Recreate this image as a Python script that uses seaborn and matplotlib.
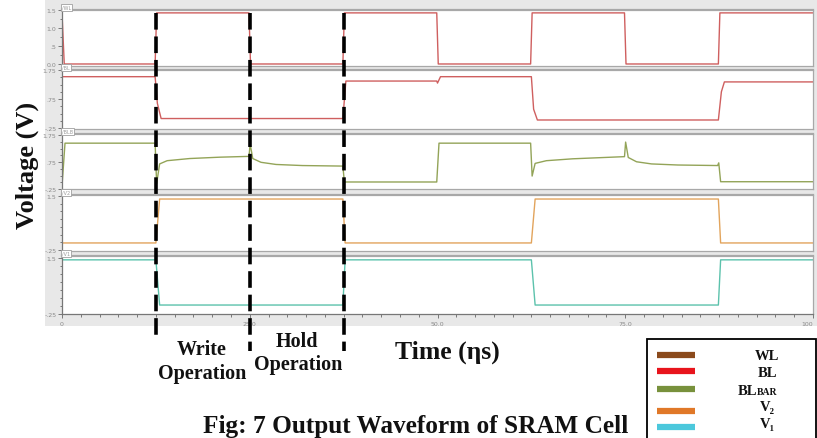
import matplotlib
matplotlib.use('Agg')
import matplotlib.pyplot as plt
import seaborn as sns
import pandas as pd
from matplotlib.patches import Rectangle
from matplotlib.ticker import MultipleLocator

# ---- data (times in ns, voltages in V) ----
wl_t = [0, 0.3, 12.4, 12.6, 24.9, 25.1, 37.4, 37.6, 49.9, 50.1, 62.4, 62.6, 74.9, 75.1, 87.4, 87.6, 100]
wl_v = [1.42, 0, 0, 1.42, 1.42, 0, 0, 1.42, 1.42, 0, 0, 1.42, 1.42, 0, 0, 1.42, 1.42]

bl_t = [0, 12.4, 12.7, 13.2, 37.4, 37.8, 49.9, 50.0, 50.4, 62.5, 62.8, 63.3, 87.4, 87.8, 88.2, 100]
bl_v = [1.52, 1.52, 0.6, 0.08, 0.08, 1.37, 1.37, 1.3, 1.52, 1.52, 0.4, 0.03, 0.03, 1.0, 1.34, 1.34]

blb_t = [0, 0.4, 12.4, 12.6, 13.0, 14.0, 17.0, 21.0, 24.9, 25.05, 25.4, 26.5, 28.5, 32.0, 37.4, 37.6,
         49.9, 50.2, 62.4, 62.6, 63.0, 64.5, 68.0, 74.9, 75.05, 75.4, 76.5, 78.5, 82.0, 87.3, 87.45, 87.7, 100]
blb_v = [-0.15, 1.45, 1.45, -0.05, 0.68, 0.80, 0.88, 0.93, 0.96, 1.42, 0.88, 0.74, 0.66, 0.62, 0.60, 0.01,
         0.01, 1.45, 1.45, 0.23, 0.70, 0.80, 0.87, 0.95, 1.49, 0.92, 0.76, 0.68, 0.64, 0.62, 0.72, 0.02, 0.02]

v2_t = [0, 12.5, 13.0, 37.4, 37.7, 62.5, 63.0, 87.4, 87.7, 100]
v2_v = [-0.02, -0.02, 1.40, 1.40, -0.02, -0.02, 1.40, 1.40, -0.02, -0.02]

v1_t = [0, 12.5, 13.0, 37.4, 37.7, 62.5, 63.0, 87.4, 87.7, 100]
v1_v = [1.44, 1.44, 0.03, 0.03, 1.44, 1.44, 0.03, 0.03, 1.44, 1.44]

signal_names = ['/WL', '/BL', '/BLB', '/V2', '/V1']
x_ticks = [0, 25, 50, 75, 100]
x_tick_labels = ['0', '25.0', '50.0', '75.0', '100']
op_times = [12.5, 25, 37.5]          # write / hold boundaries

legend_labels = ['WL', 'BL', 'BL', 'V\u2082', 'V\u2081']
legend_colors = ['#8b4a1c', '#e8141c', '#78913c', '#e07828', '#4cc8dc']

# ---- figure ----
W, H = 817, 439
sns.set_theme(style='white')
plt.rcParams['font.family'] = ['Liberation Serif', 'DejaVu Serif']

def box(x0, y0, x1, y1):
    return [x0 / W, 1 - y1 / H, (x1 - x0) / W, (y1 - y0) / H]

fig = plt.figure(figsize=(W / 100, H / 100), dpi=100)
fig.patch.set_facecolor('white')
fig.add_artist(Rectangle((45 / W, 1 - 327 / H), (W - 45) / W, 327 / H,
                         transform=fig.transFigure, fc='#e8e8e8', ec='none', zorder=-10))

panels = [
    # times, values, colour, pixel top, pixel bottom, ylim, yticks, labels, minor step
    (wl_t, wl_v, '#cf5f5f', 11, 67, (-0.056, 1.5), [0, 0.5, 1.0, 1.5], ['0.0', '.5', '1.0', '1.5'], 0.25),
    (bl_t, bl_v, '#cf5f5f', 71, 130, (-0.28, 1.75), [-0.25, 0.75, 1.75], ['-.25', '.75', '1.75'], 0.25),
    (blb_t, blb_v, '#93a458', 135, 190, (-0.25, 1.79), [-0.25, 0.75, 1.75], ['-.25', '.75', '1.75'], 0.25),
    (v2_t, v2_v, '#e2a45c', 196, 252, (-0.28, 1.53), [-0.25, 1.5], ['-.25', '1.5'], 0.25),
    (v1_t, v1_v, '#5cc2ac', 257, 315, (-0.25, 1.56), [-0.25, 1.5], ['-.25', '1.5'], 0.25),
]

for i, (t, v, col, top, bot, ylim, yt, ytl, mstep) in enumerate(panels):
    ax = fig.add_axes(box(62, top, 813, bot))
    ax.set_facecolor('white')
    df = pd.DataFrame({'t': t, 'v': v})
    sns.lineplot(data=df, x='t', y='v', ax=ax, color=col, lw=1.0,
                 estimator=None, sort=False)
    ax.set_xlim(0, 100)
    ax.set_ylim(*ylim)
    ax.set_xlabel('')
    ax.set_ylabel('')
    ax.set_yticks(yt)
    ax.set_yticklabels(ytl, family='DejaVu Sans')
    ax.yaxis.set_minor_locator(MultipleLocator(mstep))
    ax.tick_params(axis='y', which='both', left=True, direction='out', color='#666666',
                   width=0.6, labelsize=4.5, labelcolor='#8a8a8a', pad=1)
    ax.tick_params(axis='y', which='major', length=3)
    ax.tick_params(axis='y', which='minor', length=1.8)
    for s in ['top', 'right', 'bottom']:
        ax.spines[s].set_color('#a8a8a8')
        ax.spines[s].set_linewidth(0.9)
    ax.spines['top'].set_linewidth(1.6)
    ax.spines['left'].set_color('#777777')
    ax.spines['left'].set_linewidth(0.9)
    ax.text(0.0, 1.0, signal_names[i], transform=ax.transAxes, fontsize=3.5,
            color='#9a9a9a', va='bottom', ha='left', family='DejaVu Sans',
            bbox=dict(boxstyle='square,pad=0.25', fc='white', ec='#a0a0a0', lw=0.6))
    if i == len(panels) - 1:
        ax.set_xticks(x_ticks)
        ax.set_xticklabels(x_tick_labels, family='DejaVu Sans')
        ax.get_xticklabels()[-1].set_ha('right')
        ax.xaxis.set_minor_locator(MultipleLocator(2.5))
        ax.tick_params(axis='x', which='both', bottom=True, direction='out', color='#666666',
                       width=0.6, labelsize=4.5, labelcolor='#8a8a8a', pad=2)
        ax.tick_params(axis='x', which='major', length=3)
        ax.tick_params(axis='x', which='minor', length=1.8)
        ax.spines['bottom'].set_color('#777777')
    else:
        ax.set_xticks([])

# overlay in time units (x) and pixels (y) for the dashed operation markers
ov = fig.add_axes([0, 0, 1, 1], zorder=20)
ov.set_xlim(-62 / 7.51, (W - 62) / 7.51)
ov.set_ylim(H, 0)
ov.axis('off')
ov.patch.set_alpha(0)
for t, yend in zip(op_times, [341, 352, 352]):
    ov.plot([t, t], [14, yend], color='black', lw=2.6, ls=(0, (4.6, 1.9)),
            dash_capstyle='butt', solid_capstyle='butt')

# overlay in pixels for texts and legend
px = fig.add_axes([0, 0, 1, 1], zorder=25)
px.set_xlim(0, W)
px.set_ylim(H, 0)
px.axis('off')
px.patch.set_alpha(0)

bold = dict(fontweight='bold', color='#111111')
px.text(27, 165, 'Voltage (V)', rotation=90, ha='center', va='center', fontsize=19, **bold)
px.text(202, 350, 'Write', ha='center', va='center', fontsize=14.5, **bold)
px.text(202, 374, 'Operation', ha='center', va='center', fontsize=14.5, **bold)
px.text(297, 342, 'Hold', ha='center', va='center', fontsize=14.5, **bold)
px.text(298, 365, 'Operation', ha='center', va='center', fontsize=14.5, **bold)
px.text(447, 352, 'Time (\u03b7s)', ha='center', va='center', fontsize=18.5, **bold)
px.text(416, 433, 'Fig: 7 Output Waveform of SRAM Cell', ha='center', va='baseline',
        fontsize=18.2, **bold)

# legend box
px.add_patch(Rectangle((647, 340), 169, 110, fc='white', ec='black', lw=1.3, clip_on=False))
sw_y = [356, 372, 390, 412, 428]
lab_y = [357, 374, 391, 408, 425]
for lab, c, sy, ly in zip(legend_labels, legend_colors, sw_y, lab_y):
    px.plot([657, 695], [sy, sy], color=c, lw=4.5, solid_capstyle='butt')
    if lab == 'BL' and c == '#78913c':
        px.text(757, ly + 4, 'BL', ha='right', va='baseline', fontsize=10.5, **bold)
        px.text(757, ly + 4, 'BAR', ha='left', va='baseline', fontsize=7, **bold)
    else:
        px.text(767, ly, lab, ha='center', va='center', fontsize=10.5, **bold)

fig.savefig('out.png', dpi=100)
